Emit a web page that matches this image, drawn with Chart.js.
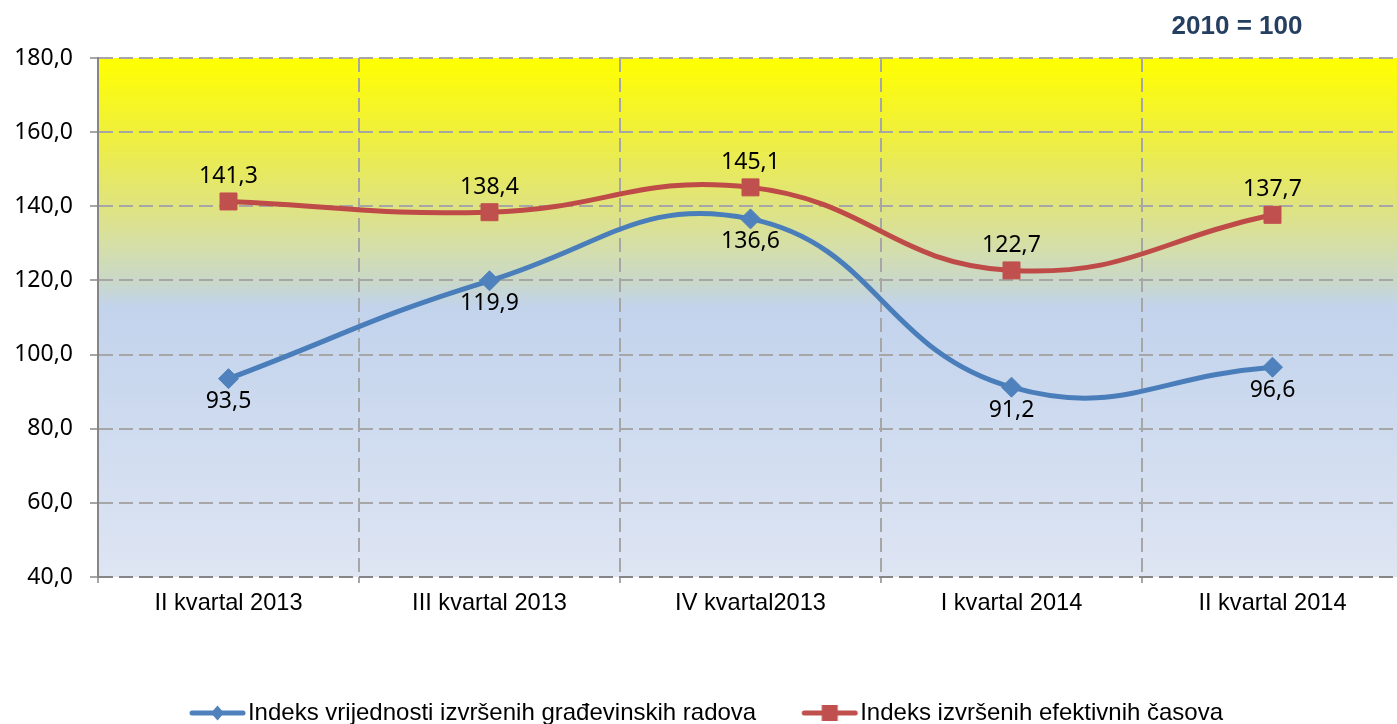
<!DOCTYPE html>
<html>
<head>
<meta charset="utf-8">
<script src="https://cdn.jsdelivr.net/npm/chart.js@4/dist/chart.umd.min.js"></script>
<style>
  html, body { margin: 0; padding: 0; background: #fff; overflow: hidden; }
  #okvir { position: relative; width: 1397px; height: 724px; overflow: hidden; }
  #okvir canvas { position: absolute; left: 0; top: 0; }
</style>
</head>
<body>
<div id="okvir"><canvas id="grafikon" width="1404" height="735"></canvas></div>
<script>
// podaci (2010 = 100)
var kvartali   = ['II kvartal 2013', 'III kvartal 2013', 'IV kvartal2013', 'I kvartal 2014', 'II kvartal 2014'];
var vrijednost = [93.5, 119.9, 136.6, 91.2, 96.6];
var casovi     = [141.3, 138.4, 145.1, 122.7, 137.7];
var yTicks     = [40, 60, 80, 100, 120, 140, 160, 180];
var nazivi     = ['Indeks vrijednosti izvršenih građevinskih radova', 'Indeks izvršenih efektivnih časova'];
var baza       = '2010 = 100';

var PLAVA = '#4A7EBB', PLAVA_M = '#4F81BD';
var CRVENA = '#BE4B48', CRVENA_M = '#C0504D';
var MREZA = '#A6A6A6', OS = '#868686';

function fmt(v) { return v.toFixed(1).replace('.', ','); }

// ikonica legende: linija + marker (kao u Excelu)
function ikona(boja, oblik) {
  var c = document.createElement('canvas');
  c.width = 120; c.height = 24;
  var g = c.getContext('2d');
  g.strokeStyle = boja; g.lineWidth = 5; g.lineCap = 'round';
  g.beginPath(); g.moveTo(36, 12); g.lineTo(87, 12); g.stroke();
  g.fillStyle = boja;
  var cx = 61.5;
  if (oblik === 'romb') {
    g.beginPath();
    g.moveTo(cx, 4.5); g.lineTo(cx + 6.5, 12); g.lineTo(cx, 19.5); g.lineTo(cx - 6.5, 12);
    g.closePath(); g.fill();
  } else {
    g.fillRect(cx - 8, 4, 16, 16);
  }
  return c;
}
var ikone = [ikona(PLAVA_M, 'romb'), ikona(CRVENA_M, 'kvadrat')];

var pozadina = {
  id: 'pozadina',
  beforeDraw: function (chart) {
    var a = chart.chartArea, ctx = chart.ctx;
    var g = ctx.createLinearGradient(0, a.top, 0, a.bottom);
    g.addColorStop(0,    '#FFFF00');
    g.addColorStop(0.14, '#F0F03A');
    g.addColorStop(0.28, '#E0E47C');
    g.addColorStop(0.37, '#D4DEAC');
    g.addColorStop(0.43, '#C9D8C8');
    g.addColorStop(0.48, '#C2D3EC');
    g.addColorStop(1,    '#DEE5F3');
    ctx.save();
    ctx.fillStyle = g;
    ctx.fillRect(a.left, a.top, a.right - a.left, a.bottom - a.top);
    ctx.restore();
  },
  afterDatasetsDraw: function (chart) {
    var ctx = chart.ctx;
    ctx.save();
    ctx.font = '23px "Noto Sans"';
    ctx.fillStyle = '#000';
    ctx.textAlign = 'center';
    ctx.textBaseline = 'middle';
    chart.data.datasets.forEach(function (ds, i) {
      var meta = chart.getDatasetMeta(i);
      meta.data.forEach(function (pt, j) {
        var pomak = i === 0 ? 23 : -25;
        ctx.fillText(fmt(ds.data[j]), pt.x, pt.y + pomak);
      });
    });
    ctx.restore();
  },
  afterDraw: function (chart) {
    var ctx = chart.ctx;
    ctx.save();
    ctx.font = 'bold 26px "Liberation Sans"';
    ctx.fillStyle = '#243F60';
    ctx.textAlign = 'center';
    ctx.textBaseline = 'middle';
    ctx.fillText(baza, 1237, 27);
    ctx.restore();
  }
};

new Chart(document.getElementById('grafikon'), {
  type: 'line',
  data: {
    labels: kvartali,
    datasets: [
      {
        label: nazivi[0], data: vrijednost,
        borderColor: PLAVA, backgroundColor: PLAVA_M, borderWidth: 5,
        pointStyle: 'rectRot', pointRadius: 10, pointHoverRadius: 10,
        pointBackgroundColor: PLAVA_M, pointBorderColor: PLAVA_M, pointBorderWidth: 1,
        tension: 0.45, fill: false
      },
      {
        label: nazivi[1], data: casovi,
        borderColor: CRVENA, backgroundColor: CRVENA_M, borderWidth: 5,
        pointStyle: 'rect', pointRadius: 12, pointHoverRadius: 12,
        pointBackgroundColor: CRVENA_M, pointBorderColor: CRVENA_M, pointBorderWidth: 1,
        tension: 0.45, fill: false
      }
    ]
  },
  options: {
    responsive: false,
    animation: false,
    layout: { autoPadding: false, padding: { top: 58, right: 1, left: 16, bottom: 0 } },
    scales: {
      x: {
        offset: true,
        grid: { offset: true, color: MREZA, lineWidth: 2, tickLength: 6, tickColor: MREZA },
        border: { display: false, dash: [14, 6] },
        ticks: { color: '#000', font: { family: 'Liberation Sans', size: 23.6 }, padding: 6, maxRotation: 0 },
        afterFit: function (s) { s.height = 72; s.paddingLeft = 0; s.paddingRight = 0; }
      },
      y: {
        min: 40, max: 180,
        afterBuildTicks: function (s) { s.ticks = yTicks.map(function (v) { return { value: v }; }); },
        ticks: { color: '#000', font: { family: 'Noto Sans', size: 23 }, padding: 17, callback: function (v) { return fmt(v); } },
        grid: {
          color: function (c) { return c.tick && c.tick.value === 40 ? OS : MREZA; },
          lineWidth: 2, tickLength: 8, tickColor: MREZA, tickBorderDash: [8, 4]
        },
        border: { display: true, color: OS, width: 2, dash: [14, 6] },
        afterFit: function (s) { s.width = 82; }
      }
    },
    plugins: {
      title: { display: false },
      tooltip: { enabled: false },
      legend: {
        position: 'bottom',
        labels: {
          usePointStyle: true,
          pointStyleWidth: 40,
          padding: 52,
          color: '#000',
          font: { family: 'Liberation Sans', size: 24 },
          generateLabels: function (chart) {
            var l = Chart.defaults.plugins.legend.labels.generateLabels(chart);
            l.forEach(function (it, i) { it.pointStyle = ikone[i]; it.lineWidth = 0; });
            return l;
          }
        }
      }
    }
  },
  plugins: [pozadina]
});
</script>
</body>
</html>
